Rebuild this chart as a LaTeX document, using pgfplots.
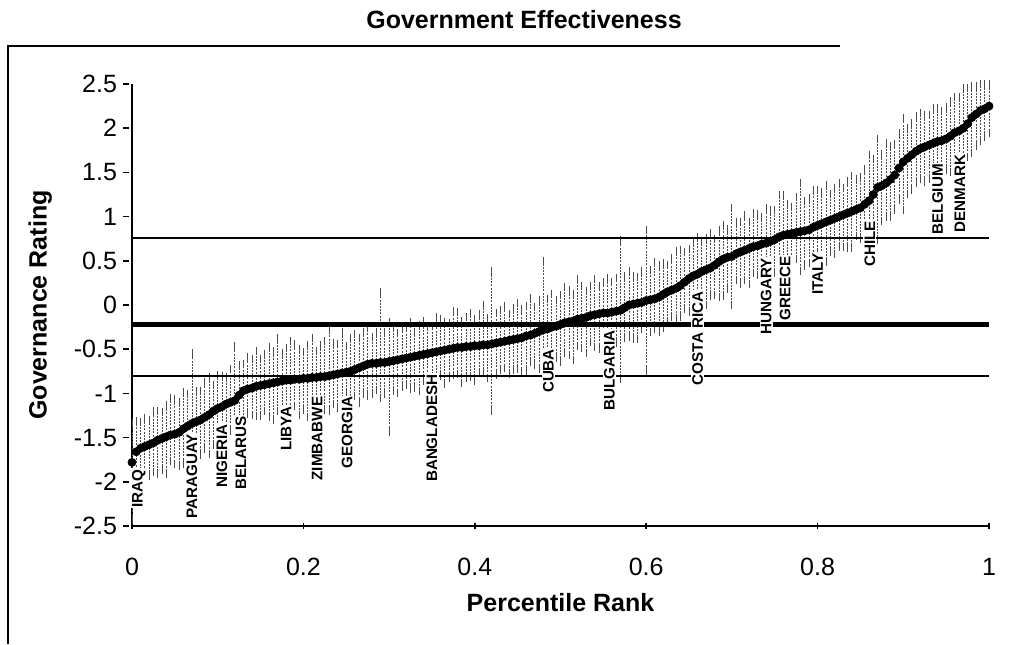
\documentclass[border=0pt]{standalone}
\usepackage{pgfplots}
\pgfplotsset{compat=1.18}
\usepackage{pgfplotstable}
\usepackage{fontspec}
\setmainfont{Liberation Sans}

% percentile rank, governance rating, upper and lower margin of error
\pgfplotstableread{
p      r      ep    em
0.000  -1.78  0.45  0.65
0.005  -1.66  0.35  0.40
0.010  -1.62  0.30  0.32
0.015  -1.60  0.32  0.30
0.020  -1.58  0.28  0.35
0.025  -1.56  0.36  0.33
0.030  -1.53  0.33  0.38
0.035  -1.51  0.30  0.36
0.040  -1.49  0.36  0.42
0.045  -1.47  0.42  0.30
0.050  -1.46  0.40  0.34
0.055  -1.44  0.34  0.38
0.060  -1.40  0.42  0.40
0.065  -1.37  0.36  0.33
0.070  -1.34  0.80  0.36
0.075  -1.32  0.35  0.40
0.080  -1.30  0.33  0.40
0.085  -1.27  0.40  0.36
0.090  -1.24  0.42  0.44
0.095  -1.20  0.30  0.38
0.100  -1.17  0.38  0.40
0.105  -1.15  0.35  0.34
0.110  -1.12  0.30  0.46
0.115  -1.10  0.38  0.32
0.120  -1.08  0.62  0.30
0.125  -1.02  0.34  0.36
0.130  -0.97  0.30  0.32
0.135  -0.95  0.36  0.28
0.140  -0.94  0.33  0.30
0.145  -0.92  0.40  0.34
0.150  -0.91  0.30  0.35
0.155  -0.90  0.35  0.30
0.160  -0.89  0.42  0.38
0.165  -0.88  0.36  0.42
0.170  -0.87  0.50  0.33
0.175  -0.86  0.32  0.36
0.180  -0.85  0.36  0.48
0.185  -0.85  0.44  0.30
0.190  -0.84  0.40  0.30
0.195  -0.84  0.34  0.40
0.200  -0.83  0.30  0.36
0.205  -0.83  0.38  0.44
0.210  -0.82  0.45  0.35
0.215  -0.82  0.30  0.30
0.220  -0.81  0.36  0.30
0.225  -0.81  0.40  0.38
0.230  -0.80  0.52  0.40
0.235  -0.79  0.36  0.33
0.240  -0.78  0.34  0.38
0.245  -0.77  0.46  0.30
0.250  -0.76  0.30  0.25
0.255  -0.75  0.38  0.34
0.260  -0.73  0.40  0.30
0.265  -0.71  0.34  0.40
0.270  -0.69  0.38  0.32
0.275  -0.67  0.42  0.36
0.280  -0.66  0.30  0.35
0.285  -0.66  0.36  0.30
0.290  -0.65  0.80  0.40
0.295  -0.65  0.34  0.36
0.300  -0.64  0.45  0.80
0.305  -0.63  0.38  0.34
0.310  -0.62  0.30  0.38
0.315  -0.61  0.36  0.32
0.320  -0.60  0.34  0.30
0.325  -0.59  0.40  0.36
0.330  -0.58  0.28  0.36
0.335  -0.57  0.34  0.40
0.340  -0.56  0.38  0.30
0.345  -0.55  0.30  0.34
0.350  -0.54  0.30  0.35
0.355  -0.53  0.40  0.30
0.360  -0.52  0.36  0.28
0.365  -0.51  0.32  0.38
0.370  -0.50  0.30  0.33
0.375  -0.49  0.42  0.30
0.380  -0.48  0.40  0.30
0.385  -0.48  0.30  0.40
0.390  -0.47  0.34  0.36
0.395  -0.47  0.38  0.34
0.400  -0.46  0.30  0.40
0.405  -0.46  0.36  0.30
0.410  -0.45  0.45  0.30
0.415  -0.45  0.30  0.38
0.420  -0.44  0.82  0.76
0.425  -0.43  0.34  0.36
0.430  -0.42  0.36  0.32
0.435  -0.41  0.40  0.30
0.440  -0.40  0.30  0.38
0.445  -0.39  0.36  0.34
0.450  -0.38  0.40  0.34
0.455  -0.37  0.32  0.40
0.460  -0.35  0.34  0.40
0.465  -0.34  0.42  0.30
0.470  -0.32  0.30  0.36
0.475  -0.30  0.36  0.42
0.480  -0.28  0.78  0.35
0.485  -0.27  0.34  0.30
0.490  -0.25  0.38  0.30
0.495  -0.24  0.30  0.36
0.500  -0.22  0.33  0.42
0.505  -0.20  0.40  0.34
0.510  -0.19  0.36  0.38
0.515  -0.18  0.30  0.44
0.520  -0.16  0.45  0.30
0.525  -0.15  0.36  0.34
0.530  -0.14  0.30  0.40
0.535  -0.12  0.34  0.30
0.540  -0.11  0.40  0.36
0.545  -0.10  0.32  0.40
0.550  -0.09  0.35  0.45
0.555  -0.09  0.40  0.34
0.560  -0.08  0.34  0.30
0.565  -0.07  0.38  0.36
0.570  -0.06  0.80  0.78
0.575  -0.03  0.36  0.34
0.580   0.00  0.38  0.36
0.585   0.01  0.32  0.40
0.590   0.02  0.30  0.40
0.595   0.03  0.36  0.30
0.600   0.05  0.80  0.80
0.605   0.06  0.34  0.36
0.610   0.07  0.42  0.34
0.615   0.09  0.36  0.40
0.620   0.12  0.35  0.38
0.625   0.15  0.30  0.34
0.630   0.17  0.36  0.30
0.635   0.19  0.42  0.36
0.640   0.22  0.40  0.35
0.645   0.26  0.34  0.30
0.650   0.30  0.33  0.38
0.655   0.33  0.38  0.34
0.660   0.35  0.42  0.30
0.665   0.38  0.34  0.38
0.670   0.40  0.36  0.40
0.675   0.42  0.40  0.32
0.680   0.45  0.30  0.34
0.685   0.49  0.36  0.40
0.690   0.52  0.38  0.42
0.695   0.54  0.32  0.36
0.700   0.55  0.55  0.55
0.705   0.58  0.36  0.30
0.710   0.60  0.34  0.36
0.715   0.62  0.40  0.34
0.720   0.64  0.30  0.40
0.725   0.66  0.38  0.30
0.730   0.67  0.36  0.33
0.735   0.69  0.30  0.38
0.740   0.70  0.40  0.30
0.745   0.72  0.36  0.40
0.750   0.74  0.34  0.38
0.755   0.77  0.48  0.36
0.760   0.79  0.45  0.40
0.765   0.80  0.34  0.42
0.770   0.81  0.30  0.34
0.775   0.82  0.40  0.30
0.780   0.83  0.55  0.45
0.785   0.84  0.34  0.40
0.790   0.85  0.36  0.38
0.795   0.88  0.42  0.34
0.800   0.90  0.40  0.30
0.805   0.92  0.36  0.38
0.810   0.94  0.42  0.45
0.815   0.96  0.30  0.36
0.820   0.98  0.34  0.40
0.825   1.00  0.38  0.34
0.830   1.02  0.30  0.36
0.835   1.04  0.36  0.40
0.840   1.06  0.40  0.42
0.845   1.08  0.34  0.30
0.850   1.10  0.35  0.35
0.855   1.14  0.40  0.38
0.860   1.18  0.52  0.40
0.865   1.25  0.40  0.36
0.870   1.33  0.55  0.60
0.875   1.35  0.36  0.40
0.880   1.38  0.45  0.38
0.885   1.42  0.38  0.42
0.890   1.47  0.35  0.40
0.895   1.55  0.40  0.36
0.900   1.62  0.50  0.55
0.905   1.66  0.34  0.40
0.910   1.70  0.36  0.40
0.915   1.74  0.40  0.36
0.920   1.77  0.40  0.35
0.925   1.79  0.36  0.40
0.930   1.81  0.34  0.38
0.935   1.83  0.40  0.34
0.940   1.85  0.38  0.42
0.945   1.86  0.34  0.36
0.950   1.88  0.36  0.35
0.955   1.91  0.40  0.40
0.960   1.95  0.40  0.36
0.965   1.97  0.38  0.34
0.970   2.00  0.45  0.42
0.975   2.05  0.40  0.38
0.980   2.12  0.36  0.40
0.985   2.16  0.32  0.36
0.990   2.20  0.30  0.35
0.995   2.22  0.28  0.32
1.000   2.25  0.25  0.30
}\govdata

\newcommand{\country}{\fontsize{7.6}{8}\selectfont\bfseries}

\begin{document}
\begin{tikzpicture}
\begin{axis}[
  name=ax,
  scale only axis,
  width=428.5pt, height=221pt,
  xmin=0, xmax=1, ymin=-2.5, ymax=2.5,
  axis lines=left,
  axis line style={-, line width=0.8pt},
  clip=false,
  xtick={0,0.2,0.4,0.6,0.8,1},
  ytick={-2.5,-2,-1.5,-1,-0.5,0,0.5,1,1.5,2,2.5},
  major tick length=3pt,
  every tick/.style={black, line width=0.8pt},
  every y tick/.append style={xshift=-3pt},
  /pgf/number format/assume math mode=true,
  tick label style={font=\fontsize{12.5}{14}\selectfont},
  xticklabel style={yshift=-11pt},
  yticklabel style={xshift=-2.5pt},
  xlabel={Percentile Rank},
  ylabel={Governance Rating},
  every axis x label/.style={at={(axis description cs:0.5,0)}, anchor=center, yshift=-38.5pt, font=\fontsize{12.5}{14}\selectfont\bfseries},
  every axis y label/.style={at={(axis description cs:-0.107,0.5)}, rotate=90, anchor=center, font=\fontsize{12.5}{14}\selectfont\bfseries},
]
% ratings with their margins of error
\addplot[only marks, mark=*, mark size=2pt, black,
  error bars/.cd, y dir=both, y explicit,
  error bar style={black!70, line width=0.45pt, dash pattern=on 1pt off 0.6pt},
  error mark options={black!70, line width=0.45pt, mark size=2pt}]
  table[x=p, y=r, y error plus=ep, y error minus=em] {\govdata};

% reference levels
\addplot[black, line width=2.6pt] coordinates {(0,-0.22) (1,-0.22)};
\addplot[black, line width=1pt] coordinates {(0,0.76) (1,0.76)};
\addplot[black, line width=1pt] coordinates {(0,-0.80) (1,-0.80)};

% country names
\begin{scope}[every node/.style={rotate=90, anchor=east, fill=white, inner sep=0.6pt, font=\country}]
\node at (axis cs:0.008,-1.84) {IRAQ};
\node at (axis cs:0.070,-1.44) {PARAGUAY};
\node at (axis cs:0.105,-1.33) {NIGERIA};
\node at (axis cs:0.127,-1.24) {BELARUS};
\node at (axis cs:0.180,-1.13) {LIBYA};
\node at (axis cs:0.216,-1.02) {ZIMBABWE};
\node at (axis cs:0.251,-1.02) {GEORGIA};
\node at (axis cs:0.350,-0.77) {BANGLADESH};
\node at (axis cs:0.486,-0.48) {CUBA};
\node at (axis cs:0.557,-0.27) {BULGARIA};
\node at (axis cs:0.660,0.17) {COSTA RICA};
\node at (axis cs:0.740,0.55) {HUNGARY};
\node at (axis cs:0.762,0.57) {GREECE};
\node at (axis cs:0.800,0.60) {ITALY};
\node at (axis cs:0.861,0.97) {CHILE};
\node at (axis cs:0.940,1.61) {BELGIUM};
\node at (axis cs:0.966,1.72) {DENMARK};
\end{scope}
\end{axis}

% page extent, frame and title
\path[use as bounding box] ([xshift=-66pt,yshift=-59pt]ax.south west) rectangle ++(508pt,322pt);
\draw[line width=0.8pt] ([xshift=-62pt,yshift=-59pt]ax.south west) -- ([xshift=-62pt,yshift=19pt]ax.north west) -- ([xshift=354pt,yshift=19pt]ax.north west);
\node[font=\fontsize{12.5}{14}\selectfont\bfseries] at ([xshift=196pt,yshift=32pt]ax.north west) {Government Effectiveness};
\end{tikzpicture}
\end{document}
